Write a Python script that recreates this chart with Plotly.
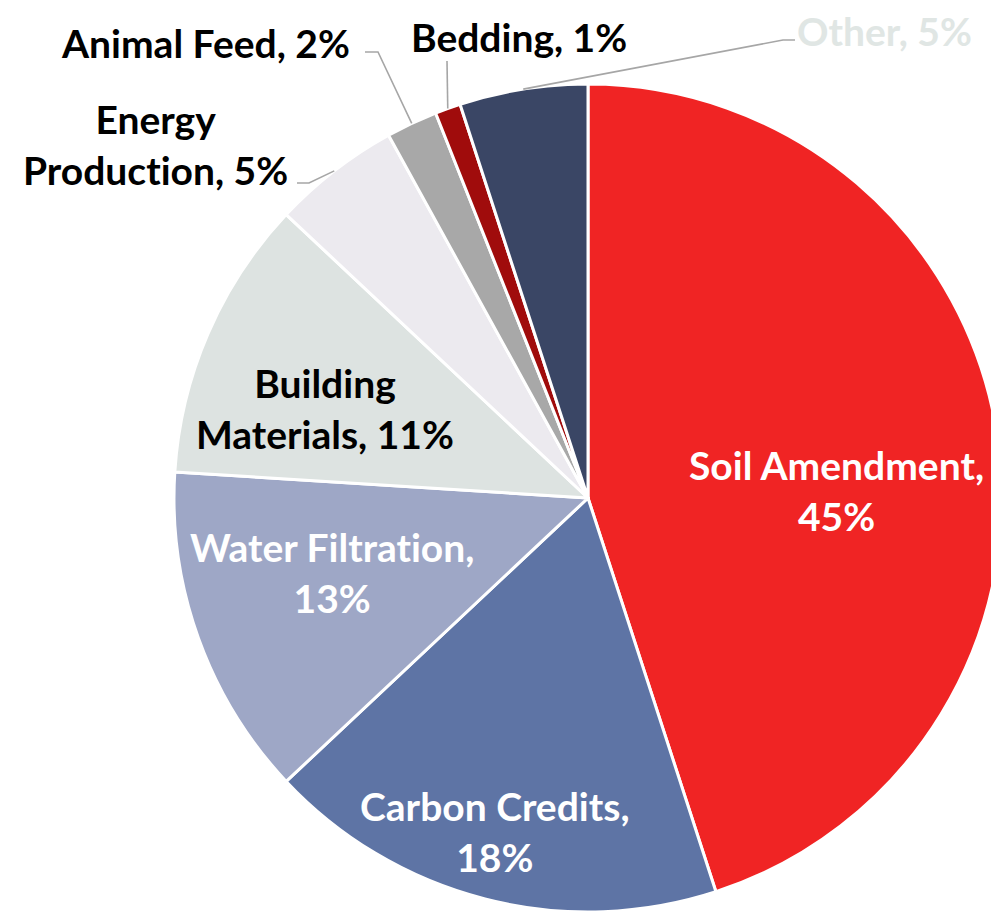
import math
import plotly.graph_objects as go

labels = ["Soil Amendment", "Carbon Credits", "Water Filtration", "Building Materials",
          "Energy Production", "Animal Feed", "Bedding", "Other"]
values = [45, 18, 13, 11, 5, 2, 1, 5]
colors = ["#F02424", "#5E74A5", "#9EA7C6", "#DDE3E1", "#ECEAEF", "#A8A8A8", "#A00C0C", "#3A4665"]
ZW = "\u200c"  # zero-width non-joiner to avoid the 'ti' ligature
label_text = ["Soil Amendment,<br>45%", "Carbon Credits,<br>18%", f"Water Filtrat{ZW}ion,<br>13%",
              "Building<br>Materials, 11%", f"Energy<br>Product{ZW}ion, 5%", "Animal Feed, 2%",
              "Bedding, 1%", "Other, 5%"]
label_colors = ["white", "white", "white", "black", "black", "black", "black", "#E0E6E4"]

W, H = 999, 913
OFF = 8  # page body margin
# target pie geometry in screenshot pixels
CX_T, CY_T, R_T = 588, 498, 414
cx, cy, R = CX_T - OFF, CY_T - OFF, R_T
dom_x = [(cx - R) / W, min(1.0, (cx + R) / W)]
dom_y = [1 - (cy + R) / H, 1 - (cy - R) / H]

fig = go.Figure(go.Pie(
    labels=labels, values=values, sort=False, direction="clockwise", rotation=0,
    marker=dict(colors=colors, line=dict(color="white", width=3)),
    textinfo="none", hoverinfo="label+percent",
    domain=dict(x=dom_x, y=dom_y), showlegend=False,
))

total = sum(values)
def slice_point(i, frac):
    cum = sum(values[:i]) + values[i] / 2
    ang = cum / total * 2 * math.pi
    return cx + R * frac * math.sin(ang), cy - R * frac * math.cos(ang)

def px2paper(x, y):
    return x / W, 1 - y / H

# label centres in screenshot pixels
label_pos = {
    0: (836, 490),
    1: (495, 831),
    2: (332, 572),
    3: (325, 408),
    4: (155, 145),
    5: (205, 43),
    6: (519, 37),
    7: (884, 31),
}
leaders = {
    4: [(297, 183), (309, 183)],
    5: [(365, 52), (378, 52)],
    6: [(447, 61)],
    7: [(795, 40), (783, 40)],
}

annotations = []
for i, (x, y) in label_pos.items():
    px, py = px2paper(x - OFF, y - OFF)
    annotations.append(dict(
        x=px, y=py, xref="paper", yref="paper", text=label_text[i], showarrow=False,
        xanchor="center", yanchor="middle", align="center",
        font=dict(family="Lato", size=39, color=label_colors[i], weight="bold"),
    ))

shapes = []
for i, pts in leaders.items():
    end = slice_point(i, 1.0)
    path_pts = [(x - OFF, y - OFF) for x, y in pts] + [end]
    path = "M " + " L ".join(f"{px2paper(x, y)[0]},{px2paper(x, y)[1]}" for x, y in path_pts)
    shapes.append(dict(type="path", path=path, xref="paper", yref="paper",
                       line=dict(color="#A6A6A6", width=1.6)))

fig.update_layout(
    width=W, height=H, margin=dict(l=0, r=0, t=0, b=0),
    paper_bgcolor="white", plot_bgcolor="white",
    annotations=annotations, shapes=shapes,
)
fig.write_html("out.html")
